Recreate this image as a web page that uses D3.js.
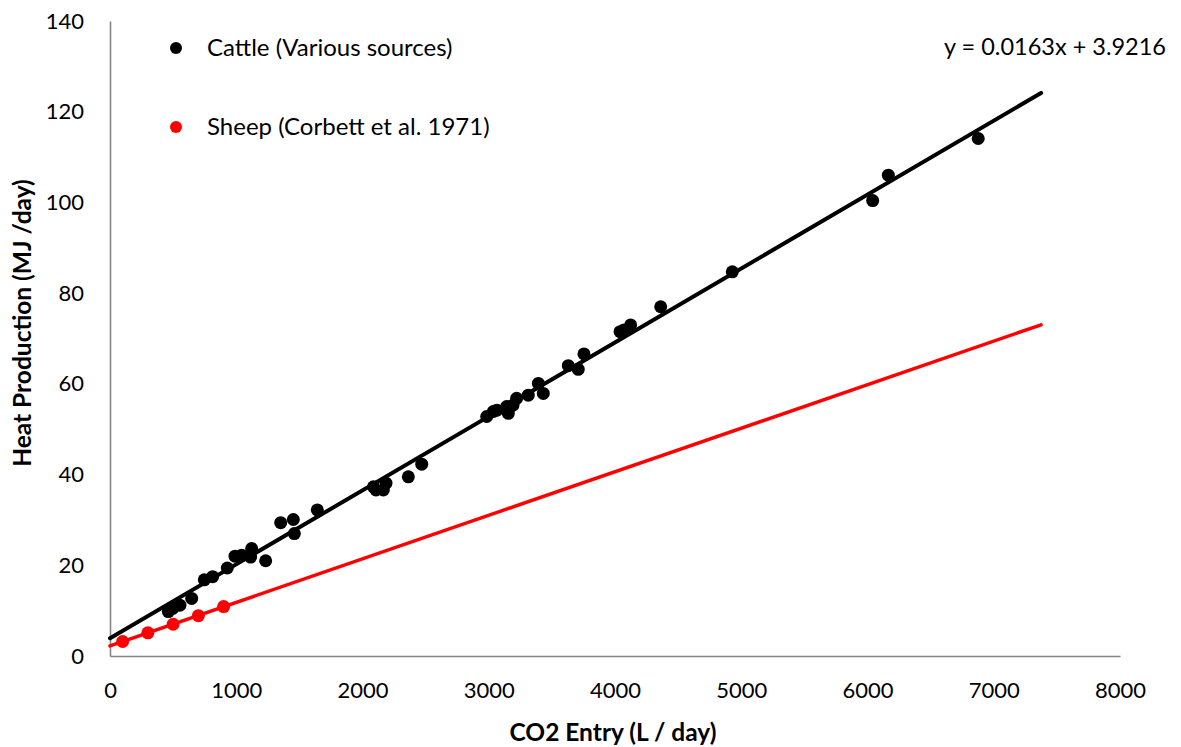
<!DOCTYPE html>
<html>
<head>
<meta charset="utf-8">
<script src="https://cdn.jsdelivr.net/npm/d3@7"></script>
<style>
  body { margin: 0; background: #fff; }
  svg { font-family: Lato, "Open Sans", sans-serif; }
</style>
</head>
<body>
<div id="chart"></div>
<script>
(function () {

  // cattle observations (CO2 entry L/day, heat production MJ/day)
  var cattleCO2 = [462, 497, 554, 647, 747, 813, 929, 990, 1043, 1122, 1114, 1233,
    1352, 1452, 1460, 1642, 2087, 2107, 2165, 2186, 2363, 2469, 2984, 3036, 3065,
    3155, 3142, 3192, 3221, 3313, 3393, 3432, 3630, 3709, 3754, 4040, 4071, 4124,
    4362, 4929, 6041, 6165, 6877]
  var cattleHeat = [9.8, 10.5, 11.2, 12.7, 16.8, 17.5, 19.4, 22.0, 22.2, 23.7, 21.8, 21.0,
    29.4, 30.1, 27.0, 32.2, 37.3, 36.6, 36.6, 38.1, 39.5, 42.3, 52.8, 53.9, 54.2,
    53.5, 55.0, 55.3, 56.8, 57.5, 60.1, 57.9, 64.0, 63.2, 66.6, 71.5, 71.9, 73.0,
    77.0, 84.7, 100.4, 106.0, 114.1]

  // sheep, Corbett et al. 1971
  var sheepCO2 = [100, 300, 500, 700, 900]
  var sheepHeat = [3.2, 5.1, 7.0, 8.9, 10.9]

  // cattle regression as printed on the chart
  var cattleSlope = 0.0163
  var cattleIntercept = 3.9216
  var trendEnd = 7375

  var xTicks = [0, 1000, 2000, 3000, 4000, 5000, 6000, 7000, 8000]
  var yTicks = [0, 20, 40, 60, 80, 100, 120, 140]

  var width = 1181
  var height = 747
  var left = 110, right = 1120, top = 21, bottom = 656

  var x = d3.scaleLinear().domain([0, 8000]).range([left, right])
  var y = d3.scaleLinear().domain([0, 140]).range([bottom, top])

  var svg = d3.select("#chart")
    .append("svg")
    .attr("width", width)
    .attr("height", height)

  // least squares fit for the sheep points
  function fit(xs, ys) {
    var mx = d3.mean(xs), my = d3.mean(ys)
    var num = 0, den = 0
    xs.forEach(function (v, i) {
      num += (v - mx) * (ys[i] - my)
      den += (v - mx) * (v - mx)
    })
    var slope = num / den
    return { slope: slope, intercept: my - slope * mx }
  }
  var sheepFit = fit(sheepCO2, sheepHeat)

  // axes: grey lines, no tick marks
  var xAxis = d3.axisBottom(x).tickValues(xTicks).tickSize(0).tickPadding(26)
    .tickFormat(d3.format("d"))
  var yAxis = d3.axisLeft(y).tickValues(yTicks).tickSize(0).tickPadding(26)

  var gx = svg.append("g").attr("transform", "translate(0," + bottom + ")").call(xAxis)
  var gy = svg.append("g").attr("transform", "translate(" + left + ",0)").call(yAxis)

  ;[gx, gy].forEach(function (g) {
    g.select(".domain").attr("stroke", "#868686").attr("stroke-width", 1.6)
    g.selectAll("text")
      .attr("font-size", 22)
      .attr("font-family", "Lato, sans-serif")
      .attr("fill", "#000")
  })
  gx.selectAll("text").attr("dy", "0.71em")
  gy.selectAll("text").attr("dy", "0.32em")

  // trend lines
  var line = d3.line()
    .x(function (d) { return x(d[0]) })
    .y(function (d) { return y(d[1]) })

  svg.append("path")
    .datum([[0, sheepFit.intercept], [trendEnd, sheepFit.intercept + sheepFit.slope * trendEnd]])
    .attr("d", line)
    .attr("fill", "none")
    .attr("stroke", "#ff0000")
    .attr("stroke-width", 3.5)
    .attr("stroke-linecap", "round")

  svg.append("path")
    .datum([[0, cattleIntercept], [trendEnd, cattleIntercept + cattleSlope * trendEnd]])
    .attr("d", line)
    .attr("fill", "none")
    .attr("stroke", "#000")
    .attr("stroke-width", 4)
    .attr("stroke-linecap", "round")

  // points
  svg.selectAll(".sheep")
    .data(sheepCO2)
    .enter()
      .append("circle")
      .attr("class", "sheep")
      .attr("cx", function (d) { return x(d) })
      .attr("cy", function (d, i) { return y(sheepHeat[i]) })
      .attr("r", 6.5)
      .attr("fill", "#ff0000")

  svg.selectAll(".cattle")
    .data(cattleCO2)
    .enter()
      .append("circle")
      .attr("class", "cattle")
      .attr("cx", function (d) { return x(d) })
      .attr("cy", function (d, i) { return y(cattleHeat[i]) })
      .attr("r", 6.5)
      .attr("fill", "#000")

  // legend
  var legend = [
    { label: "Cattle (Various sources)", color: "#000", y: 48 },
    { label: "Sheep (Corbett et al. 1971)", color: "#ff0000", y: 127 }
  ]
  legend.forEach(function (l) {
    svg.append("circle").attr("cx", 176).attr("cy", l.y).attr("r", 6).attr("fill", l.color)
    svg.append("text")
      .attr("x", 207).attr("y", l.y).attr("dy", "0.35em")
      .attr("font-size", 24)
      .text(l.label)
  })

  // regression equation
  svg.append("text")
    .attr("x", 1166).attr("y", 47).attr("dy", "0.35em")
    .attr("text-anchor", "end")
    .attr("font-size", 23.5)
    .text("y = " + cattleSlope + "x + " + cattleIntercept)

  // axis titles
  svg.append("text")
    .attr("x", 613).attr("y", 732).attr("dy", "0.35em")
    .attr("text-anchor", "middle")
    .attr("font-size", 24.5).attr("font-weight", "bold")
    .text("CO2 Entry (L / day)")

  svg.append("text")
    .attr("transform", "translate(22,323) rotate(-90)")
    .attr("dy", "0.35em")
    .attr("text-anchor", "middle")
    .attr("font-size", 24.5).attr("font-weight", "bold")
    .text("Heat Production (MJ /day)")

})();
</script>
</body>
</html>
